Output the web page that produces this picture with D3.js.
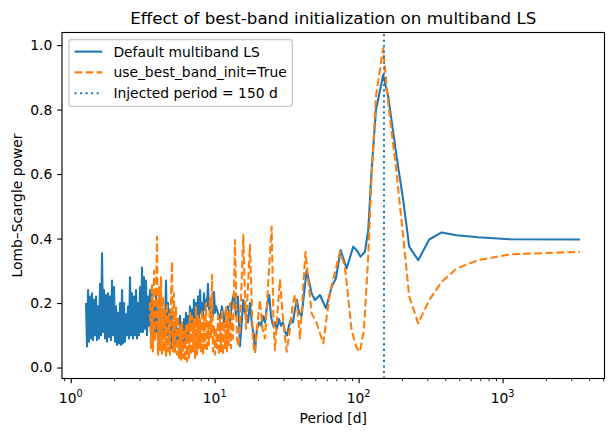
<!DOCTYPE html>
<html>
<head>
<meta charset="utf-8">
<script src="https://cdn.jsdelivr.net/npm/d3@7"></script>
<style>
  body { margin: 0; background: #fff; }
  svg { display: block; font-family: "DejaVu Sans", sans-serif; }
</style>
</head>
<body>
<svg id="chart" width="613" height="436"></svg>
<script>
// --- Data: [period (d), power] ---
const defaultLS = [
  [1.277,0.20],[1.298,0.065],[1.319,0.24],[1.340,0.08],[1.361,0.22],[1.383,0.09],[1.405,0.23],[1.428,0.085],
  [1.451,0.21],[1.474,0.10],[1.498,0.22],[1.522,0.085],[1.547,0.19],[1.572,0.09],[1.598,0.26],[1.623,0.10],
  [1.650,0.354],[1.676,0.11],[1.703,0.24],[1.731,0.09],[1.759,0.225],[1.787,0.08],[1.816,0.23],[1.845,0.095],
  [1.875,0.22],[1.905,0.085],[1.936,0.27],[1.967,0.10],[1.999,0.25],[2.031,0.08],[2.064,0.19],[2.097,0.07],
  [2.131,0.17],[2.165,0.075],[2.200,0.20],[2.236,0.07],[2.272,0.24],[2.308,0.075],[2.345,0.20],[2.383,0.08],
  [2.421,0.165],[2.460,0.10],[2.500,0.19],[2.540,0.09],[2.581,0.28],[2.623,0.10],[2.665,0.23],[2.708,0.09],
  [2.752,0.22],[2.796,0.10],[2.841,0.24],[2.887,0.09],[2.934,0.20],[2.981,0.10],[3.029,0.25],[3.078,0.11],
  [3.127,0.31],[3.177,0.11],[3.228,0.28],[3.280,0.12],[3.333,0.27],[3.387,0.10],[3.442,0.22],[3.497,0.13],
  [3.553,0.24],[3.611,0.10],[3.669,0.25],[3.728,0.12],[3.788,0.20],[3.849,0.09],[3.911,0.23],[3.974,0.11],
  [4.038,0.18],[4.103,0.08],[4.170,0.15],[4.237,0.10],[4.305,0.13],[4.375,0.09],[4.445,0.17],[4.517,0.12],
  [4.589,0.27],[4.663,0.10],[4.738,0.20],[4.815,0.08],[4.892,0.18],[4.971,0.06],[5.051,0.16],[5.132,0.07],
  [5.215,0.14],[5.299,0.05],[5.384,0.15],[5.471,0.07],[5.561,0.12],[5.650,0.05],[5.741,0.16],[5.834,0.06],
  [5.928,0.13],[6.023,0.08],[6.120,0.15],[6.219,0.07],[6.319,0.17],[6.421,0.09],[6.524,0.16],[6.629,0.10],
  [6.736,0.19],[6.845,0.12],[6.955,0.18],[7.067,0.11],[7.181,0.21],[7.297,0.13],[7.416,0.20],[7.535,0.14],
  [7.656,0.22],[7.780,0.15],[7.905,0.24],[8.032,0.17],[8.162,0.20],[8.293,0.16],[8.427,0.23],[8.563,0.18],
  [8.701,0.21],[8.841,0.19],[8.984,0.26],[9.129,0.18],[9.277,0.21],[9.426,0.15],[9.578,0.19],[9.732,0.16],
  [9.888,0.235],[10.05,0.17],[10.21,0.19],[10.54,0.17],[10.89,0.15],[11.24,0.19],[11.60,0.14],[11.98,0.18],
  [12.37,0.19],[12.77,0.14],[13.19,0.20],[13.61,0.23],[14.06,0.16],[14.51,0.22],[14.99,0.066],[15.47,0.15],
  [15.80,0.21],[16.23,0.17],[16.68,0.16],[17.03,0.14],[17.58,0.20],[18.16,0.13],[18.75,0.10],[19.05,0.05],
  [19.67,0.12],[20.30,0.14],[20.97,0.13],[21.65,0.16],[22.36,0.14],[23.08,0.19],[23.94,0.225],[24.60,0.16],
  [25.41,0.13],[26.23,0.14],[27.08,0.12],[27.96,0.15],[28.87,0.13],[29.81,0.14],[30.78,0.11],[31.78,0.10],
  [32.81,0.13],[33.88,0.15],[34.98,0.14],[36.11,0.18],[37.29,0.21],[38.50,0.17],[39.12,0.168],[40.20,0.16],
  [43.54,0.302],[47.17,0.23],[49.72,0.209],[53.86,0.225],[59.29,0.184],[64.94,0.25],[69.56,0.277],[74.99,0.364],
  [82.54,0.307],[91.73,0.375],[96.85,0.364],[103.2,0.344],[110.6,0.359],[116.6,0.426],[123.1,0.612],[131.9,0.798],
  [148.0,0.907],[160.6,0.84],[183.6,0.654],[204.0,0.519],[224.6,0.375],[259.4,0.333],[309.3,0.397],[377.1,0.419],
  [479.3,0.41],[677,0.404],[1124,0.398],[3443,0.397]
];

const bestBandLS = [
  [3.553,0.20],[3.611,0.06],[3.669,0.26],[3.728,0.05],[3.788,0.30],[3.849,0.08],[3.911,0.20],[3.974,0.406],
  [4.038,0.04],[4.103,0.25],[4.170,0.05],[4.237,0.28],[4.305,0.04],[4.375,0.22],[4.445,0.05],[4.517,0.18],
  [4.589,0.034],[4.663,0.20],[4.738,0.05],[4.815,0.17],[4.892,0.04],[4.971,0.22],[5.051,0.328],[5.132,0.05],
  [5.215,0.23],[5.299,0.045],[5.384,0.19],[5.471,0.04],[5.561,0.16],[5.650,0.03],[5.741,0.13],[5.834,0.024],
  [5.928,0.14],[6.023,0.03],[6.120,0.12],[6.219,0.02],[6.319,0.13],[6.421,0.019],[6.524,0.14],[6.629,0.03],
  [6.736,0.17],[6.845,0.04],[6.955,0.16],[7.067,0.05],[7.181,0.15],[7.297,0.03],[7.416,0.19],[7.535,0.04],
  [7.656,0.16],[7.780,0.06],[7.905,0.15],[8.032,0.05],[8.162,0.18],[8.293,0.04],[8.427,0.16],[8.563,0.06],
  [8.701,0.20],[8.841,0.05],[8.984,0.14],[9.129,0.07],[9.277,0.22],[9.426,0.09],[9.578,0.287],[9.732,0.05],
  [9.888,0.13],[10.05,0.04],[10.21,0.12],[10.37,0.06],[10.54,0.16],[10.71,0.04],[10.89,0.15],[11.06,0.05],
  [11.24,0.18],[11.42,0.04],[11.60,0.14],[11.79,0.06],[11.98,0.19],[12.17,0.05],[12.37,0.17],[12.57,0.07],
  [12.77,0.20],[12.98,0.06],[13.19,0.16],[13.40,0.09],[13.84,0.395],[14.28,0.09],[14.63,0.065],[14.99,0.12],
  [15.80,0.411],[16.50,0.12],[17.58,0.38],[18.45,0.08],[19.05,0.044],[19.67,0.12],[20.63,0.209],[21.48,0.12],
  [22.36,0.09],[23.45,0.25],[24.88,0.437],[25.60,0.15],[26.23,0.054],[27.30,0.17],[28.41,0.271],[29.81,0.15],
  [31.62,0.049],[33.34,0.12],[34.70,0.19],[36.11,0.225],[37.58,0.18],[39.12,0.09],[42.72,0.359],[47.17,0.168],
  [51.09,0.138],[56.78,0.075],[63.19,0.231],[74.16,0.359],[80.34,0.313],[89.42,0.116],[96.85,0.06],[102.1,0.049],
  [108.8,0.116],[116.6,0.344],[123.1,0.592],[131.9,0.84],[148.0,0.99],[160.6,0.82],[183.6,0.602],[204.0,0.406],
  [224.6,0.22],[259.4,0.137],[309.3,0.209],[377.1,0.266],[479.3,0.307],[677,0.333],[1124,0.351],[3443,0.359]
];

const injectedPeriod = 150;
const yTicks = [0.0, 0.2, 0.4, 0.6, 0.8, 1.0];
const xDecades = [1, 10, 100, 1000];
const xExponents = ["0", "1", "2", "3"];
const legendLabels = ["Default multiband LS", "use_best_band_init=True", "Injected period = 150 d"];

// --- Layout (matplotlib-like, 100 dpi) ---
const pt = 100 / 72;
const fs = 10 * pt;             // 10pt font
const box = { left: 62, right: 604.5, top: 32.5, bottom: 378.5 };
const lw = 1.5 * pt;
const C0 = "#1f77b4", C1 = "#ff7f0e";

const svg = d3.select("#chart");

const x = d3.scaleLog().domain([0.8695, 5107]).range([box.left, box.right]);
const y = d3.scaleLinear().domain([-0.034, 1.039]).range([box.bottom, box.top]);

svg.append("clipPath").attr("id", "plotclip")
  .append("rect")
  .attr("x", box.left).attr("y", box.top)
  .attr("width", box.right - box.left).attr("height", box.bottom - box.top);

const plot = svg.append("g").attr("clip-path", "url(#plotclip)");

const line = d3.line().x(d => x(d[0])).y(d => y(d[1]));

plot.append("path")
  .datum(defaultLS)
  .attr("d", line)
  .attr("fill", "none")
  .attr("stroke", C0)
  .attr("stroke-width", lw)
  .attr("stroke-linejoin", "round");

plot.append("path")
  .datum(bestBandLS)
  .attr("d", line)
  .attr("fill", "none")
  .attr("stroke", C1)
  .attr("stroke-width", lw)
  .attr("stroke-linejoin", "round")
  .attr("stroke-dasharray", `${3.7 * lw},${1.6 * lw}`);

plot.append("line")
  .attr("x1", x(injectedPeriod)).attr("x2", x(injectedPeriod))
  .attr("y1", box.bottom).attr("y2", box.top)
  .attr("stroke", C0)
  .attr("stroke-width", lw)
  .attr("stroke-dasharray", `${1 * lw},${1.65 * lw}`);

// --- Axes ---
const yAxis = svg.append("g")
  .attr("transform", `translate(${box.left},0)`)
  .call(d3.axisLeft(y).tickValues(yTicks).tickFormat(d3.format(".1f"))
    .tickSize(3.5 * pt).tickPadding(3.5 * pt));
yAxis.select(".domain").remove();
yAxis.selectAll(".tick line").attr("stroke", "#000").attr("stroke-width", 0.8 * pt);
yAxis.selectAll(".tick text")
  .attr("font-family", "DejaVu Sans").attr("font-size", fs).attr("fill", "#000");

const minorTicks = [];
[0.1, 1, 10, 100, 1000].forEach(dec => {
  for (let k = 2; k <= 9; k++) {
    const v = dec * k;
    if (v >= x.domain()[0] && v <= x.domain()[1]) minorTicks.push(v);
  }
});

const xMinor = svg.append("g")
  .attr("transform", `translate(0,${box.bottom})`)
  .call(d3.axisBottom(x).tickValues(minorTicks).tickFormat("").tickSize(2 * pt));
xMinor.select(".domain").remove();
xMinor.selectAll(".tick line").attr("stroke", "#000").attr("stroke-width", 0.6 * pt);

const xMajor = svg.append("g")
  .attr("transform", `translate(0,${box.bottom})`)
  .call(d3.axisBottom(x).tickValues(xDecades).tickFormat("").tickSize(3.5 * pt));
xMajor.select(".domain").remove();
xMajor.selectAll(".tick line").attr("stroke", "#000").attr("stroke-width", 0.8 * pt);

const xLabels = svg.append("g")
  .attr("font-family", "DejaVu Sans").attr("font-size", fs).attr("fill", "#000");
xDecades.forEach((d, i) => {
  const t = xLabels.append("text")
    .attr("x", x(d)).attr("y", 403.4)
    .attr("text-anchor", "middle");
  t.append("tspan").text("10");
  t.append("tspan").attr("dy", -6.3).attr("font-size", fs * 0.7).text(xExponents[i]);
});

// frame
svg.append("rect")
  .attr("x", box.left).attr("y", box.top)
  .attr("width", box.right - box.left).attr("height", box.bottom - box.top)
  .attr("fill", "none").attr("stroke", "#000").attr("stroke-width", 0.8 * pt);

// --- Titles ---
svg.append("text")
  .attr("x", (box.left + box.right) / 2).attr("y", 24.2)
  .attr("text-anchor", "middle")
  .attr("font-size", 12 * pt)
  .text("Effect of best-band initialization on multiband LS");

svg.append("text")
  .attr("x", (box.left + box.right) / 2).attr("y", 423)
  .attr("text-anchor", "middle")
  .attr("font-size", fs)
  .text("Period [d]");

svg.append("text")
  .attr("transform", `translate(22,${(box.top + box.bottom) / 2}) rotate(-90)`)
  .attr("text-anchor", "middle")
  .attr("font-size", fs)
  .text("Lomb\u2013Scargle power");

// --- Legend ---
const lg = svg.append("g");
const lgX = box.left + 0.5 * fs, lgY = box.top + 0.5 * fs;
const pad = 0.4 * fs, handleLen = 2 * fs, handlePad = 0.8 * fs, rowH = 20.8;
const lgRect = lg.append("rect")
  .attr("x", lgX).attr("y", lgY)
  .attr("rx", 0.2 * fs).attr("ry", 0.2 * fs)
  .attr("fill", "#fff").attr("fill-opacity", 0.8)
  .attr("stroke", "#cccccc").attr("stroke-width", 1 * pt);

const styles = [
  { color: C0, dash: null },
  { color: C1, dash: `${3.7 * lw},${1.6 * lw}` },
  { color: C0, dash: `${1 * lw},${1.65 * lw}` }
];
let maxW = 0;
legendLabels.forEach((lab, i) => {
  const cy = lgY + pad + 6.6 + i * rowH;
  lg.append("line")
    .attr("x1", lgX + pad).attr("x2", lgX + pad + handleLen)
    .attr("y1", cy).attr("y2", cy)
    .attr("stroke", styles[i].color).attr("stroke-width", lw)
    .attr("stroke-dasharray", styles[i].dash);
  const t = lg.append("text")
    .attr("x", lgX + pad + handleLen + handlePad).attr("y", cy + 0.36 * fs)
    .attr("font-size", fs)
    .text(lab);
  maxW = Math.max(maxW, t.node().getComputedTextLength());
});
lgRect
  .attr("width", pad + handleLen + handlePad + maxW + pad)
  .attr("height", 2 * pad + 2 * rowH + fs * 1.0 + 0.3);
</script>
</body>
</html>
